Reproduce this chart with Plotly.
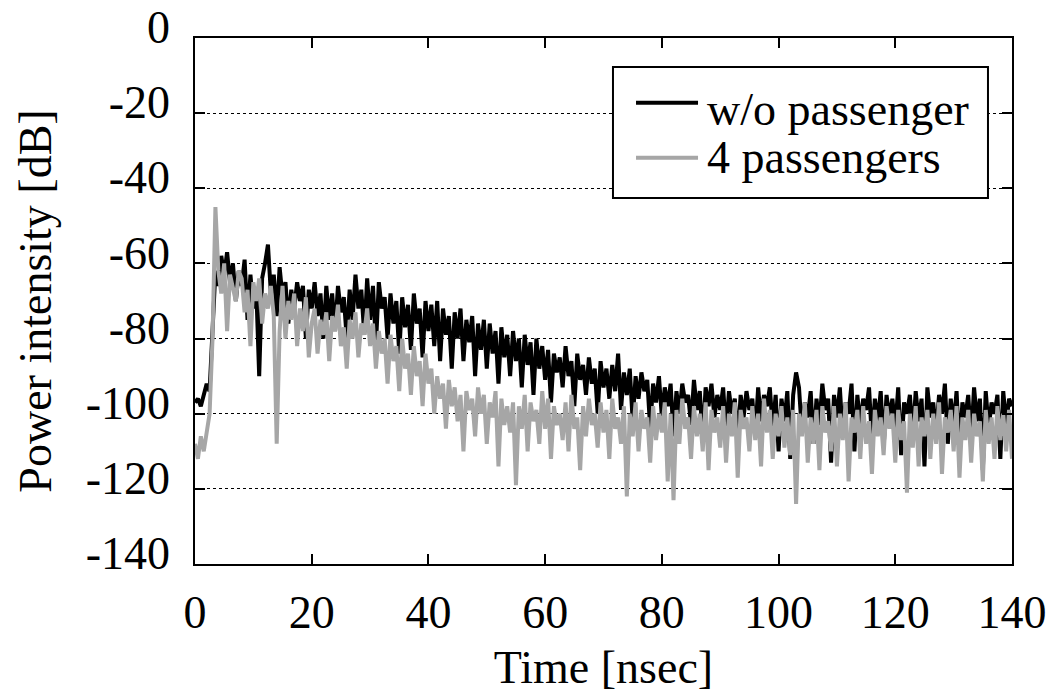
import numpy as np
import plotly.graph_objects as go

# Sampling grid: 0 .. 140 ns in 0.5 ns steps
t_step = 0.5

# Power delay profile without passengers [dB]
no_passenger = [
    -97, -96, -98, -95, -92, -94, -78, -62, -66, -58, -63, -57, -65, -60, -70, -62, -66, -59, -75, -63,
    -72, -67, -90, -64, -60, -55, -68, -63, -74, -61, -69, -65, -76, -67, -72, -65, -70, -66, -80, -67,
    -72, -65, -74, -68, -80, -66, -75, -68, -78, -66, -73, -69, -80, -67, -75, -63, -72, -67, -79, -64,
    -75, -66, -82, -65, -72, -69, -80, -68, -76, -70, -84, -69, -77, -71, -83, -68, -76, -72, -85, -70,
    -78, -71, -82, -70, -86, -72, -79, -74, -88, -73, -80, -72, -86, -75, -81, -74, -90, -76, -83, -75,
    -88, -76, -84, -78, -92, -77, -85, -79, -90, -78, -86, -80, -93, -79, -87, -81, -95, -80, -88, -82,
    -91, -83, -97, -84, -89, -85, -93, -82, -90, -86, -98, -84, -91, -87, -95, -85, -92, -88, -100, -86,
    -93, -88, -96, -87, -94, -84, -99, -89, -95, -88, -102, -90, -96, -89, -94, -91, -104, -92, -97, -90,
    -101, -93, -98, -92, -106, -94, -100, -92, -97, -95, -103, -91, -99, -94, -107, -93, -98, -92, -101, -95,
    -99, -93, -105, -94, -100, -96, -108, -95, -101, -94, -99, -96, -106, -93, -102, -95, -98, -93, -104, -95,
    -110, -96, -102, -94, -112, -95, -89, -93, -105, -97, -101, -94, -108, -96, -103, -92, -99, -96, -113, -95,
    -101, -93, -106, -97, -100, -92, -110, -95, -103, -96, -99, -93, -107, -96, -102, -94, -109, -95, -101, -96,
    -104, -93, -111, -97, -100, -95, -106, -94, -102, -96, -114, -93, -101, -97, -105, -95, -100, -92, -108, -96,
    -103, -94, -110, -97, -101, -95, -107, -93, -102, -96, -115, -94, -104, -97, -100, -95, -112, -94, -103, -96,
    -98,
]

# Power delay profile with 4 passengers [dB]
four_passengers = [
    -108, -112, -106, -110, -105, -100, -80, -45, -62, -68, -60, -78, -63, -66, -70, -62, -64, -73, -67, -82,
    -65, -70, -64, -76, -68, -72, -66, -74, -108, -78, -66, -80, -70, -75, -68, -82, -72, -78, -69, -85,
    -76, -72, -84, -75, -79, -73, -86, -74, -78, -71, -82, -77, -88, -75, -80, -73, -85, -76, -79, -72,
    -82, -76, -88, -78, -84, -80, -92, -79, -86, -82, -94, -80, -88, -84, -95, -82, -90, -86, -98, -84,
    -92, -88, -100, -90, -96, -92, -104, -91, -98, -93, -102, -95, -110, -94, -99, -96, -106, -93, -100, -95,
    -108, -97, -101, -94, -114, -96, -103, -98, -105, -97, -119, -98, -104, -95, -110, -97, -102, -99, -108, -94,
    -104, -96, -112, -98, -103, -100, -107, -97, -110, -95, -104, -101, -115, -98, -106, -96, -103, -100, -109, -97,
    -105, -99, -112, -96, -104, -101, -108, -98, -122, -100, -106, -97, -110, -99, -104, -101, -113, -98, -107, -100,
    -105, -97, -118, -100, -123, -99, -108, -96, -104, -101, -112, -98, -106, -100, -110, -97, -115, -99, -105, -101,
    -109, -98, -113, -100, -106, -97, -117, -99, -104, -101, -110, -98, -107, -100, -114, -96, -105, -99, -112, -100,
    -106, -98, -109, -101, -111, -99, -124, -100, -106, -97, -113, -101, -108, -99, -115, -98, -105, -102, -110, -98,
    -114, -100, -107, -97, -118, -101, -105, -99, -112, -98, -108, -102, -116, -99, -106, -101, -111, -98, -104, -100,
    -113, -99, -107, -102, -121, -100, -109, -98, -114, -101, -106, -99, -112, -100, -108, -97, -116, -101, -105, -99,
    -110, -98, -117, -101, -107, -99, -113, -100, -106, -102, -118, -99, -108, -101, -112, -98, -107, -100, -110, -99,
    -112,
]

time_ns = np.arange(len(no_passenger)) * t_step

x_ticks = [0, 20, 40, 60, 80, 100, 120, 140]
y_ticks = [0, -20, -40, -60, -80, -100, -120, -140]

series_names = ["w/o passenger", "4 passengers"]

FONT = '"Liberation Serif", "Times New Roman", Times, serif'
GRAY = "#a6a6a6"
colors = ["black", GRAY]

fig = go.Figure()
for name, values, color in zip(series_names, [no_passenger, four_passengers], colors):
    fig.add_trace(go.Scatter(
        x=time_ns, y=values, mode="lines", name=name,
        line=dict(color=color, width=4), showlegend=False,
    ))

# Boxed key in the upper right of the plot area (paper coordinates)
fig.add_shape(type="rect", xref="paper", yref="paper",
              x0=0.5116, x1=0.9706, y0=0.6958, y1=0.9449,
              line=dict(color="black", width=2), fillcolor="white", layer="above")
key_line_y = [0.877, 0.7725]
key_text_y = [0.864, 0.773]
for name, color, ly, ty in zip(series_names, colors, key_line_y, key_text_y):
    fig.add_shape(type="line", xref="paper", yref="paper",
                  x0=0.5398, x1=0.6157, y0=ly, y1=ly,
                  line=dict(color=color, width=4), layer="above")
    fig.add_annotation(xref="paper", yref="paper", x=0.6242, y=ty,
                       xanchor="left", yanchor="middle", showarrow=False,
                       text=name, font=dict(family=FONT, size=46, color="black"))

fig.update_layout(
    width=1052, height=699,
    margin=dict(l=195, r=40, t=38, b=135, autoexpand=False),
    paper_bgcolor="white", plot_bgcolor="white",
    font=dict(family=FONT, size=46, color="black"),
    showlegend=False,
)

fig.update_xaxes(
    range=[0, 140], tickvals=x_ticks, ticktext=[str(v) for v in x_ticks],
    ticks="inside", ticklen=10, tickwidth=1.5, tickcolor="black",
    showline=True, linecolor="black", linewidth=1.5, mirror="ticks",
    showgrid=False, zeroline=False, automargin=False,
    tickfont=dict(family=FONT, size=46),
    ticklabelstandoff=7,
    title=dict(text="Time [nsec]", font=dict(family=FONT, size=46), standoff=14),
)
fig.update_yaxes(
    range=[-140, 0], tickvals=y_ticks, ticktext=[str(v) for v in y_ticks],
    ticks="inside", ticklen=10, tickwidth=1.5, tickcolor="black",
    showline=True, linecolor="black", linewidth=1.5, mirror="ticks",
    showgrid=True, gridcolor="black", gridwidth=1, griddash="dot",
    zeroline=False, automargin=False,
    tickfont=dict(family=FONT, size=46),
    ticklabelstandoff=14, ticklabelshift=-11,
    title=dict(text="Power intensity [dB]", font=dict(family=FONT, size=46), standoff=20),
)

fig.write_html("out.html")
